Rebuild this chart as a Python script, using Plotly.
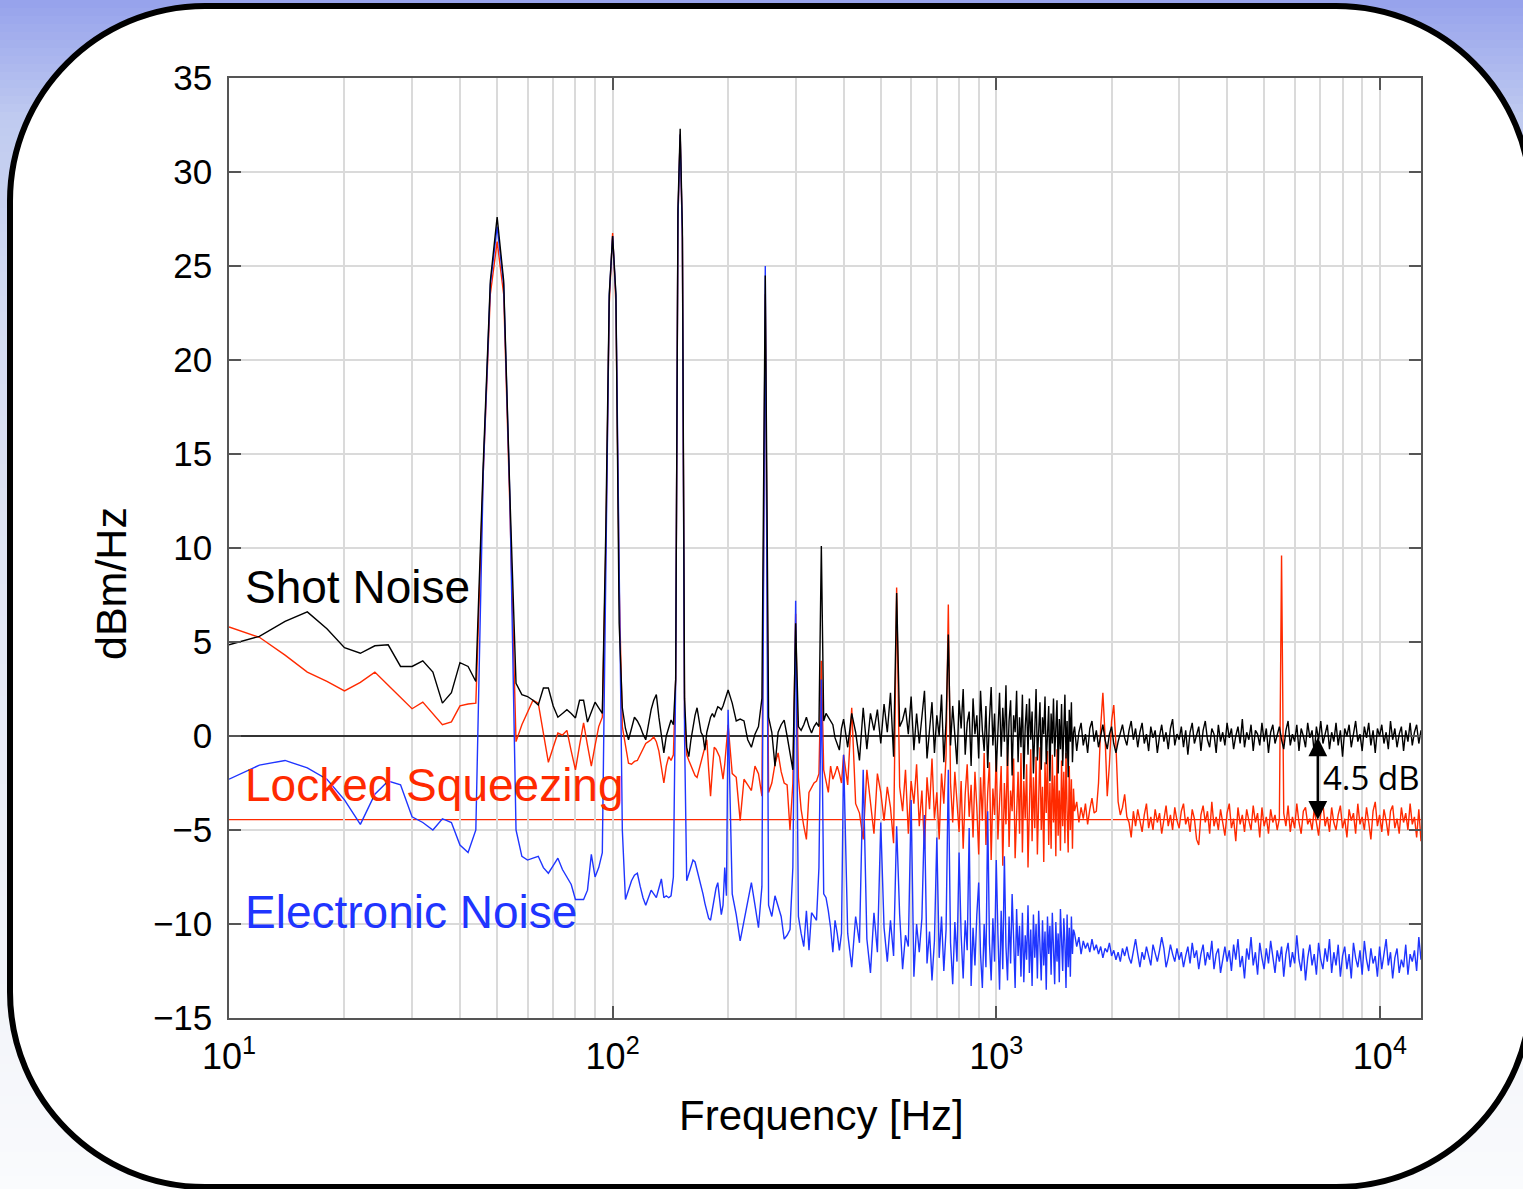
import numpy as np
import plotly.graph_objects as go

# ---------------- data ----------------
# frequency grids of the spectrum segments (Hz)
freq_a = list(range(10, 201, 2))          # 10 .. 200 Hz
freq_b = list(range(205, 400, 5))         # 205 .. 395 Hz
freq_c = list(range(400, 1600, 10))       # 400 .. 1590 Hz
freq_d = np.geomspace(1600, 12800, 160).tolist()  # 1.6 .. 12.8 kHz

shot_a = [4.85, 5.3, 6.1, 6.6, 5.7, 4.7, 4.4, 4.8, 4.85, 3.7,
          3.7, 4.0, 3.4, 1.75, 2.3, 3.9, 3.7, 2.9, 14.5, 24.2,
          27.6, 24.2, 12.7, 2.8, 2.2, 2.1, 1.9, 1.65, 2.55, 2.55,
          1.6, 1.0, 1.2, 1.4, 1.2, 0.96, 1.9, 1.9, 0.74, 1.3,
          1.8, 1.5, 1.2, 11.0, 23.5, 26.6, 23.5, 6.0, 1.5, 0.4,
          -0.2, 0.4, 1.0, 0.8, 0.5, 0.1, -0.2, 0.6, 1.4, 1.9,
          2.2, 1.0, 0.0, -0.9, 0.0, 0.5, 0.85, 0.6, 3.0, 28.0,
          32.3, 27.0, 2.0, -0.6, -1.1, -0.2, 0.6, 1.1, 1.5, 0.8,
          0.2, 0.0, -0.75, 0.2, 0.7, 1.0, 1.2, 1.0, 1.3, 1.55,
          1.5, 1.4, 1.6, 1.9, 2.2, 2.45]
shot_b = [1.75, 0.8, 0.9, 0.8, -0.2, -0.6, 0.1, 0.5, 2.0, 24.5,
          1.0, 0.2, -1.6, 0.2, 0.6, 0.85, 0.0, -1.0, -1.8, 6.0,
          0.5, 0.3, 0.6, 1.0, 0.5, 0.16, 0.5, 0.7, 0.5, 10.1,
          0.8, 1.2, 1.0, 0.85, 0.6, -0.1, -0.4, -0.75, 0.4]
shot_c = [0.9, -0.6, 1.2, 0.2, -1.3, 1.5, -0.7, 1.2, 0.3, 1.4,
          -0.4, 1.7, 0.2, 2.3, -1.1, 7.6, 0.5, 0.85, 1.5, 0.1,
          2.1, -0.75, 1.2, -0.4, 0.9, 2.4, -1.2, 0.3, 1.8, -0.9,
          1.1, 0.0, 2.2, -1.4, 0.8, 5.4, -0.5, 1.6, 0.2, -1.5,
          1.9, 0.4, 2.5, -1.0, 0.7, 1.3, -1.6, 2.0, 0.1, 1.1,
          -1.2, 2.4, 0.3, -0.8, 1.6, -1.7, 0.9, 2.6, -0.5, 1.2,
          -1.9, 0.6, 2.3, -1.1, 1.5, -0.3, 2.7, -1.6, 0.8, 1.9,
          -2.1, 1.1, 0.2, 2.4, -1.4, 1.0, -0.6, 2.2, -2.3, 0.5,
          1.7, -1.0, 2.0, -0.2, 1.3, -2.0, 0.9, 2.5, -1.3, 0.4,
          1.8, -1.8, 1.0, 0.1, 2.1, -1.5, 0.7, 1.6, -2.4, 1.2,
          -0.4, 2.0, -1.1, 0.6, 1.9, -2.0, 0.9, -0.7, 1.7, -1.6,
          0.3, 2.2, -1.2, 0.8, -2.2, 1.4, -0.3, 1.8, -1.4, 0.2]
shot_d = [0.5, -0.8, 0.2, 0.7, -0.5, 0.1, -0.9, 0.4, 0.8, -0.3,
          0.3, -0.6, 0.0, 0.6, -0.2, -0.7, 0.1, 0.5, -0.4, -0.9,
          -0.3, 0.2, 0.6, -0.1, -0.5, 0.3, 0.8, -0.2, 0.4, -0.6,
          0.2, 0.7, -0.4, 0.1, -0.8, 0.5, -0.1, 0.3, -0.9, 0.0,
          0.6, -0.3, 0.2, -0.7, 0.4, 0.9, -0.5, 0.1, -0.2, 0.5,
          -0.6, 0.3, -1.0, 0.2, 0.7, -0.4, 0.0, 0.5, -0.8, 0.3,
          0.8, -0.2, -0.6, 0.4, 0.1, -0.9, 0.6, -0.3, 0.2, -0.5,
          0.7, -0.1, 0.4, -0.7, 0.0, 0.5, -0.4, 0.9, -0.6, 0.2,
          -0.2, 0.6, -0.8, 0.3, 0.1, -0.5, 0.7, -0.3, 0.4, -0.9,
          0.2, 0.6, -0.4, 0.0, 0.5, -0.2, -0.7, 0.3, 0.8, -0.5,
          0.1, -0.3, 0.6, -0.8, 0.4, 0.0, -0.6, 0.7, -0.1, 0.3,
          -0.9, 0.5, -0.2, 0.8, -0.4, 0.1, 0.6, -0.7, 0.2, -0.3,
          0.7, -0.5, 0.3, -1.1, 0.4, 0.0, 0.6, -0.6, 0.2, 0.8,
          -0.3, 0.1, -0.8, 0.5, -0.1, 0.7, -0.5, 0.3, -0.9, 0.4,
          0.0, 0.6, -0.4, 0.2, -0.7, 0.8, -0.2, 0.4, -0.6, 0.1,
          0.5, -0.8, 0.3, -0.3, 0.7, -0.5, 0.2, 0.6, -0.4, 0.3]

squeeze_a = [5.8, 5.25, 4.3, 3.4, 2.9, 2.4, 2.85, 3.4, 2.7, 2.05,
             1.45, 1.8, 1.2, 0.6, 0.75, 1.6, 1.7, 1.75, 14.0, 23.5,
             26.3, 23.5, 12.0, -0.3, 0.6, 1.3, 1.9, 1.75, 0.2, -1.4,
             -0.6, 0.16, 0.05, 0.3, -0.8, -1.8, -0.5, 0.7, -0.5, -1.6,
             -0.5, 0.5, 1.0, 10.0, 23.0, 26.75, 23.0, 8.0, 0.5, -0.6,
             -1.45, -1.5, -1.35, -1.3, -1.0, -0.7, -0.4, -0.3, -0.2, -0.05,
             -0.3, -0.8, -1.8, -2.5, -1.6, -1.1, -1.3, -1.0, 3.0, 27.5,
             32.0, 26.5, 1.0, -1.0, -1.3, -1.6, -1.9, -2.1, -2.2, -1.8,
             -1.5, -1.0, -0.6, -0.2, -1.8, -3.2, -1.8, -0.6, -0.7, -0.9,
             -1.1, -1.7, -2.3, -1.5, -0.5, 0.6]
squeeze_b = [-2.0, -2.2, -4.5, -2.3, -2.6, -2.9, -1.6, -2.0, -3.2, 23.5,
             -3.0, -2.5, -1.5, -0.9, -1.9, -2.5, -2.6, -5.0, -2.5, 6.5,
             -2.2, -3.9, -4.8, -5.5, -3.0, -2.7, -2.5, -2.4, -2.0, 4.0,
             -1.8, -2.4, -3.0, -1.6, -2.3, -2.0, -1.6, -2.0, -2.5]
squeeze_c = [-1.0, -2.6, 1.5, -3.6, -4.1, -5.5, -1.8, -3.4, -5.2, -2.0,
             -3.0, -4.5, -2.7, -3.8, -5.7, 7.9, -2.7, -4.0, -1.8, -5.2,
             -2.4, -3.6, -1.5, -4.8, -2.9, -6.0, -2.2, -3.9, -1.2, -4.4,
             -3.0, -5.5, -2.0, -3.6, -1.0, 7.0, -2.5, -4.6, -1.9, -3.5,
             -5.1, -2.4, -6.0, -3.1, -1.5, -4.3, -2.6, -5.4, -1.9, -3.8,
             -6.3, -2.2, -4.5, -0.9, -5.8, -3.0, -1.4, -6.6, -2.8, -4.2,
             -0.8, -5.5, -3.3, -1.6, -6.9, -2.5, -4.7, -0.6, -5.9, -2.9,
             -4.0, -1.2, -6.5, -3.6, -1.9, -5.2, -0.9, -6.2, -2.4, -4.4,
             -1.5, -7.0, -3.0, -0.7, -5.6, -2.2, -4.9, -1.1, -6.3, -3.2,
             -0.6, -5.0, -2.7, -6.7, -1.4, -4.1, -0.8, -5.8, -2.5, -6.0,
             -1.0, -4.6, -2.1, -6.4, -0.7, -5.3, -2.9, -6.1, -1.3, -4.8,
             -1.9, -5.7, -0.9, -4.0, -6.2, -1.6, -5.0, -2.3, -6.0, -2.8]
squeeze_d = [-4.0, -3.5, -4.6, -3.8, -4.4, -3.6, -4.7, -3.9, -3.3, -4.1,
             -4.0, -2.5, 0.5, 2.3, 0.0, -3.2, -1.5, 0.8, 1.65, -0.5,
             -3.5, -4.2, -3.8, -3.1, -4.3, -4.6, -5.4, -4.0, -4.8, -3.9,
             -4.5, -5.1, -4.2, -3.6, -4.9, -4.3, -5.0, -3.9, -4.6, -4.1,
             -5.2, -4.4, -3.7, -4.8, -4.2, -5.0, -3.8, -4.5, -4.9, -4.0,
             -3.6, -4.7, -4.3, -5.1, -3.9, -4.4, -5.5, -5.8, -4.2, -3.7,
             -4.6, -4.0, -5.2, -3.5, -4.8, -4.3, -5.0, -3.9, -4.5, -5.3,
             -4.1, -3.6, -4.9, -4.4, -5.6, -3.8, -4.7, -4.2, -5.1, -3.9,
             -4.5, -5.0, -3.7, -4.6, -4.1, -5.4, -3.8, -4.8, -4.3, -5.2,
             -3.9, -4.6, -4.2, -5.0, -4.4, 9.6, -4.1, -4.8, -3.7, -5.1,
             -4.3, -4.9, -3.6, -4.6, -5.2, -4.0, -3.8, -4.7, -4.4, -5.0,
             -3.9, -4.5, -5.3, -4.1, -3.6, -4.8, -4.3, -5.1, -3.8, -4.6,
             -5.0, -4.2, -3.7, -4.9, -4.4, -5.4, -3.9, -4.5, -4.1, -5.2,
             -3.6, -4.7, -4.3, -5.0, -3.8, -4.6, -5.5, -4.0, -3.5, -4.8,
             -4.2, -5.1, -3.9, -4.5, -5.3, -4.0, -3.7, -4.9, -4.4, -5.2,
             -3.8, -4.6, -4.1, -5.0, -3.6, -4.7, -4.3, -5.4, -3.9, -5.6]

elec_a = [-2.3, -1.55, -1.3, -1.7, -2.3, -3.4, -4.7, -3.1, -2.4, -2.6,
          -4.3, -4.6, -5.0, -4.4, -4.6, -5.8, -6.2, -5.0, 14.0, 24.0,
          27.1, 24.0, 12.5, -5.0, -6.4, -6.6, -6.5, -6.4, -7.0, -7.3,
          -6.9, -6.5, -7.1, -7.5, -7.9, -8.7, -8.7, -8.7, -8.2, -6.3,
          -7.5, -7.0, -6.2, 10.5, 23.4, 26.6, 23.4, 9.0, -5.0, -8.7,
          -8.2, -7.7, -7.4, -7.3, -8.0, -8.6, -9.0, -8.6, -8.2, -8.4,
          -8.6, -8.1, -7.6, -8.6, -8.5, -8.6, -8.5, -7.5, 3.0, 27.5,
          32.0, 26.5, 0.0, -7.7, -7.3, -6.9, -6.6, -6.7, -7.1, -7.5,
          -7.9, -8.4, -8.9, -9.3, -9.7, -9.8, -9.2, -8.6, -8.1, -7.8,
          -8.6, -9.5, -9.0, -7.0, -8.5, 1.4]
elec_b = [-8.4, -9.5, -10.9, -9.8, -8.8, -7.8, -9.0, -10.2, -8.0, 25.0,
          -9.0, -9.6, -8.5, -9.0, -9.6, -10.8, -10.6, -10.3, -7.0, 7.2,
          -9.6, -10.5, -11.2, -9.3, -11.4, -9.4, -9.6, -9.8, -7.0, 3.0,
          -8.4, -8.6, -9.3, -10.2, -11.5, -9.8, -10.5, -11.4, -10.5]
elec_c = [-1.0, -10.5, -12.3, -9.6, -11.0, -1.8, -10.8, -12.6, -9.4, -11.5,
          -4.6, -10.2, -12.0, -9.8, -11.7, -4.8, -9.5, -12.4, -10.6, -11.2,
          -3.4, -12.8, -10.0, -11.5, -9.7, -4.2, -12.1, -10.4, -13.0, -10.9,
          -5.4, -11.8, -9.6, -12.5, -10.3, -1.8, -11.0, -13.2, -9.9, -12.0,
          -6.2, -10.6, -12.9, -9.8, -11.4, -4.9, -13.3, -10.2, -12.2, -9.5,
          -7.8, -11.6, -13.4, -10.0, -12.3, -4.0, -11.0, -13.0, -9.7, -12.0,
          -6.6, -10.5, -13.5, -9.3, -12.4, -6.4, -11.2, -13.0, -9.6, -12.1,
          -8.4, -10.8, -13.4, -9.2, -11.7, -10.1, -12.8, -9.4, -13.1, -10.6,
          -11.9, -9.0, -12.6, -10.3, -13.3, -9.5, -11.8, -10.0, -12.9, -9.3,
          -11.4, -13.0, -9.8, -12.2, -10.4, -13.5, -9.6, -11.6, -10.1, -12.7,
          -9.4, -11.9, -13.2, -9.9, -12.0, -10.5, -13.1, -9.2, -11.3, -12.5,
          -9.7, -11.0, -13.4, -9.5, -12.3, -10.2, -12.8, -9.6, -11.6, -10.3]
elec_d = [-10.5, -11.2, -10.7, -11.6, -10.9, -11.3, -11.0, -11.5, -10.8, -11.4,
          -11.1, -11.6, -11.2, -11.8, -11.3, -11.5, -11.0, -11.7, -11.4, -11.9,
          -11.5, -12.0, -11.3, -11.7, -11.2, -11.8, -12.1, -11.4, -10.8, -11.6,
          -12.3, -11.5, -11.9, -11.2, -11.7, -12.2, -11.1, -11.6, -12.0, -11.4,
          -10.7, -11.3, -12.3, -11.8, -11.1, -11.6, -12.0, -11.3, -11.9, -11.5,
          -12.3, -11.7, -11.2, -12.1, -11.0, -11.8, -11.4, -12.4, -11.6, -11.1,
          -12.2, -11.5, -11.9, -10.9, -12.4, -11.6, -11.3, -12.6, -11.8, -11.2,
          -12.0, -11.4, -12.5, -11.1, -11.9, -10.8, -12.3, -11.7, -12.9, -11.3,
          -11.9, -10.7, -12.2, -11.5, -12.7, -11.0, -11.8, -12.4, -11.3, -12.1,
          -10.9, -11.7, -12.6, -11.4, -12.0, -11.2, -12.8, -11.6, -11.0, -12.3,
          -11.5, -12.1, -10.6, -11.9, -12.5, -11.3, -13.0, -11.8, -11.1, -12.2,
          -11.6, -12.7, -11.0, -11.9, -12.4, -11.3, -12.0, -10.8, -12.6, -11.5,
          -12.2, -11.1, -12.8, -11.7, -11.2, -12.4, -11.6, -12.9, -11.0, -11.8,
          -12.3, -11.4, -12.7, -10.9, -11.9, -12.5, -11.3, -12.1, -11.7, -12.8,
          -11.2, -12.4, -11.6, -10.8, -12.2, -11.5, -12.9, -11.8, -11.3, -12.6,
          -11.9, -12.3, -11.1, -12.7, -11.6, -12.0, -11.4, -12.5, -10.7, -11.9]

shot_level = 0.0          # dB
squeeze_level = -4.45     # dB
arrow_freq = 6890         # Hz, position of the 4.5 dB arrow
y_ticks = [-15, -10, -5, 0, 5, 10, 15, 20, 25, 30, 35]
x_major = [10, 100, 1000, 10000]
x_major_text = ["10<sup>1</sup>", "10<sup>2</sup>", "10<sup>3</sup>", "10<sup>4</sup>"]
x_minor = [m * d for d in (10, 100, 1000) for m in range(2, 10)]

freq = freq_a + freq_b + freq_c + freq_d
shot = shot_a + shot_b + shot_c + shot_d
squeeze = squeeze_a + squeeze_b + squeeze_c + squeeze_d
elec = elec_a + elec_b + elec_c + elec_d

# ---------------- figure ----------------
W, H = 1523, 1189
PL, PR, PT, PB = 229, 1421, 78, 1018   # plot area in pixels

def px(X):
    return (X - PL) / (PR - PL)

def py(Y):
    return (PB - Y) / (PB - PT)

RED = "#ff2a00"
BLUE = "#1f35ff"
GRID = "#dadada"
AX = "#555555"

fig = go.Figure()
fig.add_trace(go.Scatter(x=freq, y=squeeze, mode="lines",
                         line=dict(color=RED, width=1.4), showlegend=False))
fig.add_trace(go.Scatter(x=freq, y=elec, mode="lines",
                         line=dict(color=BLUE, width=1.4), showlegend=False))
fig.add_trace(go.Scatter(x=freq, y=shot, mode="lines",
                         line=dict(color="black", width=1.4), showlegend=False))

# background gradient bands (decoration)
shapes = []
stops = [(0, (150, 162, 236)), (120, (192, 203, 240)), (300, (210, 218, 241)),
         (650, (228, 232, 245)), (1000, (242, 244, 249)), (1189, (250, 251, 253))]
band = 8
for y0 in range(0, H, band):
    yc = y0 + band / 2
    c = stops[-1][1]
    for (a, ca), (b, cb) in zip(stops[:-1], stops[1:]):
        if a <= yc <= b:
            t = (yc - a) / (b - a)
            c = tuple(int(round(ca[i] + (cb[i] - ca[i]) * t)) for i in range(3))
            break
    shapes.append(dict(type="rect", xref="paper", yref="paper",
                       x0=px(-5), x1=px(W + 5), y0=py(y0 + band + 1), y1=py(y0),
                       fillcolor="rgb(%d,%d,%d)" % c, line=dict(width=0), layer="below"))

# rounded white panel with thick black border
Lx, Tx, Rx, Bx, r = 10, 6, 1531, 1187, 195
k = 0.5523 * r
def P(X, Y):
    return "%.5f,%.5f" % (px(X), py(Y))
path = ("M " + P(Lx + r, Tx) + " L " + P(Rx - r, Tx) +
        " C " + P(Rx - r + k, Tx) + " " + P(Rx, Tx + r - k) + " " + P(Rx, Tx + r) +
        " L " + P(Rx, Bx - r) +
        " C " + P(Rx, Bx - r + k) + " " + P(Rx - r + k, Bx) + " " + P(Rx - r, Bx) +
        " L " + P(Lx + r, Bx) +
        " C " + P(Lx + r - k, Bx) + " " + P(Lx, Bx - r + k) + " " + P(Lx, Bx - r) +
        " L " + P(Lx, Tx + r) +
        " C " + P(Lx, Tx + r - k) + " " + P(Lx + r - k, Tx) + " " + P(Lx + r, Tx) + " Z")
shapes.append(dict(type="path", xref="paper", yref="paper", path=path,
                   fillcolor="white", line=dict(color="black", width=6), layer="below"))

# squeezing reference level
shapes.append(dict(type="line", xref="paper", yref="y", x0=0, x1=1,
                   y0=squeeze_level, y1=squeeze_level,
                   line=dict(color=RED, width=1.4), layer="between"))

label_font = "Liberation Sans, Arial, sans-serif"
annotations = [
    dict(text="Shot Noise", xref="paper", yref="paper", x=px(243), y=py(587),
         xanchor="left", yanchor="middle", showarrow=False,
         font=dict(family=label_font, size=46, color="black")),
    dict(text="Locked Squeezing", xref="paper", yref="paper", x=px(243), y=py(785),
         xanchor="left", yanchor="middle", showarrow=False,
         font=dict(family=label_font, size=46, color=RED)),
    dict(text="Electronic Noise", xref="paper", yref="paper", x=px(243), y=py(912),
         xanchor="left", yanchor="middle", showarrow=False,
         font=dict(family=label_font, size=46, color=BLUE)),
    dict(text="dBm/Hz", xref="paper", yref="paper", x=px(111), y=py(584),
         xanchor="center", yanchor="middle", textangle=-90, showarrow=False,
         font=dict(family=label_font, size=43, color="black")),
    dict(text="Frequency [Hz]", xref="paper", yref="paper", x=px(821), y=py(1115),
         xanchor="center", yanchor="middle", showarrow=False,
         font=dict(family=label_font, size=42, color="black")),
    dict(text="", x=np.log10(arrow_freq), y=squeeze_level,
         ax=np.log10(arrow_freq), ay=shot_level, xref="x", yref="y", axref="x", ayref="y",
         showarrow=True, arrowhead=2, startarrowhead=2, arrowside="end+start",
         arrowwidth=2.5, arrowsize=1.5, startarrowsize=1.5, arrowcolor="black"),
    dict(text="4.5 dB", x=np.log10(arrow_freq), y=(shot_level + squeeze_level) / 2,
         xref="x", yref="y", xanchor="left", yanchor="middle", xshift=3,
         showarrow=False, font=dict(family="Open Sans, sans-serif", size=33, color="black")),
]

fig.update_layout(
    width=W, height=H,
    margin=dict(l=PL, r=W - PR, t=PT, b=H - PB, autoexpand=False),
    paper_bgcolor="rgb(225,230,245)",
    plot_bgcolor="rgba(0,0,0,0)",
    shapes=shapes,
    annotations=annotations,
    font=dict(family=label_font, color="black"),
)
fig.update_xaxes(
    type="log", range=[1, np.log10(12800)],
    tickvals=x_major, ticktext=x_major_text,
    ticks="inside", ticklen=12, tickwidth=1.5, tickcolor=AX,
    showline=True, linecolor=AX, linewidth=1.5, mirror="ticks",
    showgrid=True, gridcolor=GRID, gridwidth=1.5,
    minor=dict(tickvals=x_minor, showgrid=True, gridcolor=GRID, gridwidth=1.5, ticks=""),
    tickfont=dict(family=label_font, size=36, color="black"),
    ticklabelstandoff=6,
    zeroline=False,
)
fig.update_yaxes(
    range=[-15, 35], tickvals=y_ticks,
    ticks="inside", ticklen=12, tickwidth=1.5, tickcolor=AX,
    showline=True, linecolor=AX, linewidth=1.5, mirror="ticks",
    showgrid=True, gridcolor=GRID, gridwidth=1.5,
    zeroline=True, zerolinecolor="#333333", zerolinewidth=1.5,
    tickfont=dict(family=label_font, size=35, color="black"),
    ticklabelstandoff=8,
)

fig.write_html("out.html", config={"displayModeBar": False},
               post_script="document.body.style.margin='0';document.body.style.overflow='hidden';")
